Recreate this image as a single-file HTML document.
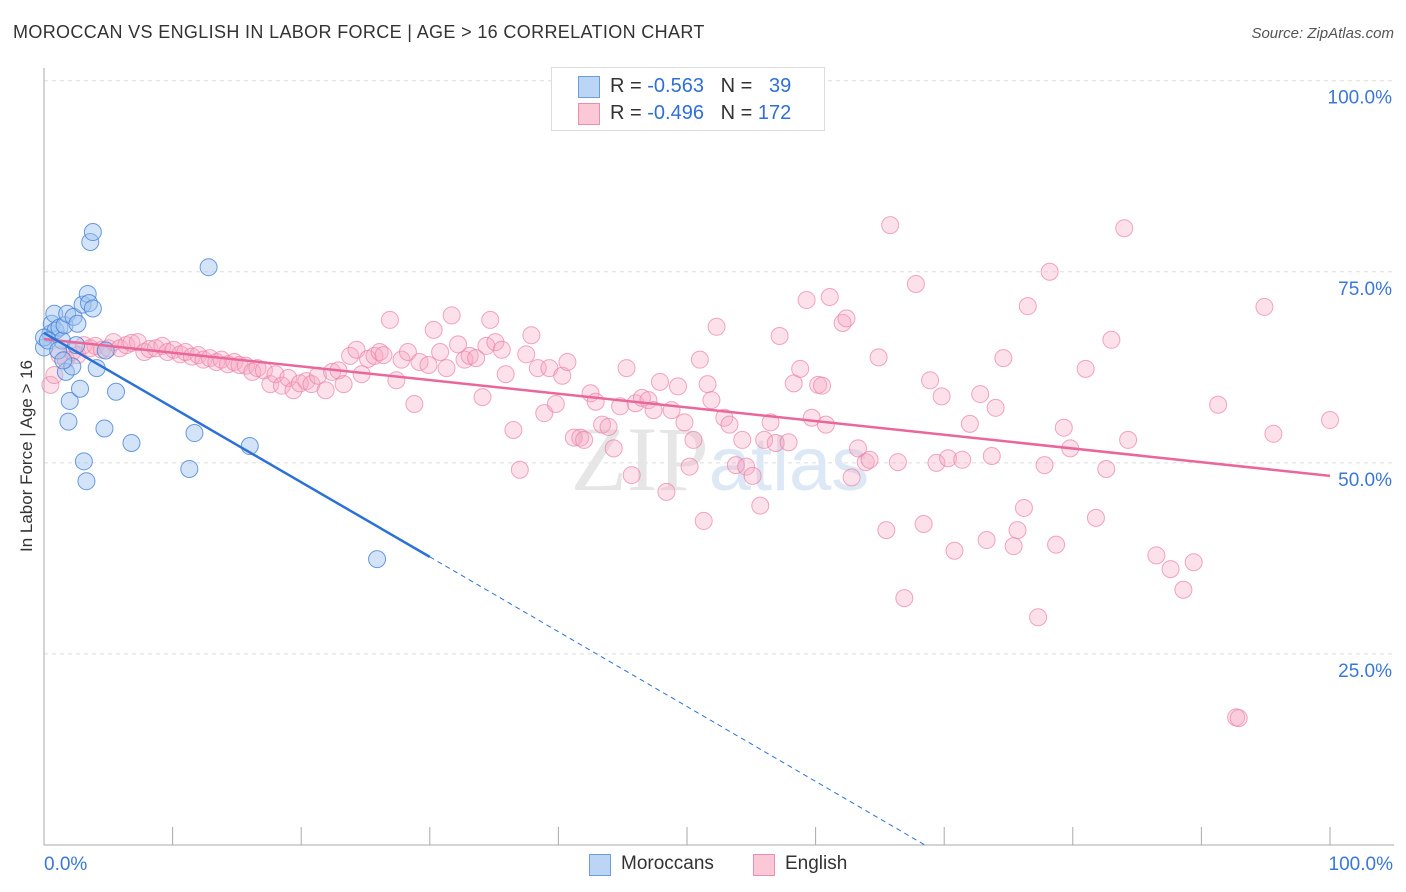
<!DOCTYPE html>
<html><head><meta charset="utf-8"><style>
body{margin:0;background:#fff;font-family:"Liberation Sans",sans-serif;}
#wrap{position:relative;width:1406px;height:892px;overflow:hidden;}
.t{position:absolute;white-space:nowrap;}
</style></head><body>
<div id="wrap">
<div class="t" style="left:13px;top:22px;font-size:18px;color:#333;letter-spacing:0.35px">MOROCCAN VS ENGLISH IN LABOR FORCE | AGE &gt; 16 CORRELATION CHART</div>
<div class="t" style="right:12px;top:25px;font-size:15px;color:#555;font-style:italic">Source: ZipAtlas.com</div>
<svg id="plot" width="1406" height="892" style="position:absolute;left:0;top:0"></svg>
<div class="t" style="left:27px;top:456px;font-size:17px;color:#333;transform:translate(-50%,-50%) rotate(-90deg)">In Labor Force | Age &gt; 16</div>
<div style="position:absolute;left:551px;top:67px;width:272px;height:62px;border:1px solid #ddd;background:#fff;font-size:20px">
 <div style="position:absolute;left:26px;top:8px;width:20px;height:20px;background:#bcd5f5;border:1px solid #6a9de0"></div>
 <div class="t" style="left:58px;top:7px;color:#333">R = <span style="color:#2f6fd6">-0.563</span>&nbsp;&nbsp;&nbsp;N = &nbsp;&nbsp;<span style="color:#2f6fd6">39</span></div>
 <div style="position:absolute;left:26px;top:35px;width:20px;height:20px;background:#fac8d6;border:1px solid #ec8fab"></div>
 <div class="t" style="left:58px;top:34px;color:#333">R = <span style="color:#2f6fd6">-0.496</span>&nbsp;&nbsp;&nbsp;N = <span style="color:#2f6fd6">172</span></div>
</div>
<div style="position:absolute;left:589px;top:853px;font-size:19px;color:#333">
 <div style="position:absolute;left:0;top:1px;width:20px;height:20px;background:#bcd5f5;border:1px solid #6a9de0"></div>
 <div class="t" style="left:32px;top:0">Moroccans</div>
 <div style="position:absolute;left:164px;top:1px;width:20px;height:20px;background:#fac8d6;border:1px solid #ec8fab"></div>
 <div class="t" style="left:196px;top:0">English</div>
</div>
</div>
<script>
const blueX=[0,0.5,0.6,0.8,0.9,1.2,1.4,1.6,1.7,1.8,1.9,2.0,2.2,2.3,2.5,2.6,2.8,3.0,3.1,3.3,3.4,3.5,3.6,3.8,3.8,4.1,4.7,4.8,5.6,6.8,11.3,11.7,12.8,16.0,25.9,0,0.3,1.1,1.5];
const blueY=[65.1,66.9,68.2,69.5,67.3,67.7,66.0,68.0,61.9,69.5,55.4,58.1,62.6,69.1,65.4,68.2,59.7,70.7,50.2,47.6,72.1,70.9,78.9,70.2,80.2,62.4,54.5,64.7,59.3,52.6,49.2,53.9,75.6,52.2,37.4,66.4,66.0,64.7,63.4];
const pinkX=[0.5,0.8,1.2,1.7,2.2,2.6,3.1,3.6,4.0,4.5,5.0,5.4,5.9,6.4,6.8,7.3,7.8,8.2,8.7,9.2,9.6,10.1,10.6,11.0,11.5,12.0,12.4,12.9,13.4,13.8,14.3,14.8,15.2,15.7,16.2,16.6,17.1,17.6,18.0,18.5,19.0,19.4,19.9,20.4,20.8,21.3,21.9,22.4,22.9,23.3,23.8,24.3,24.7,25.2,25.7,26.1,26.4,26.9,27.4,27.8,28.3,28.8,29.2,29.9,30.3,30.8,31.3,31.7,32.2,32.7,33.1,33.6,34.1,34.4,34.7,35.1,35.6,35.9,36.5,37.0,37.5,37.9,38.4,38.9,39.3,39.8,40.3,40.7,41.2,41.7,42.0,42.5,42.9,43.4,43.9,44.3,44.8,45.3,45.7,46.0,46.5,47.0,47.4,47.9,48.4,48.8,49.3,49.8,50.2,50.5,51.0,51.3,51.6,51.9,52.3,52.9,53.3,53.8,54.3,54.6,55.1,55.7,56.0,56.5,56.9,57.2,57.9,58.3,58.8,59.3,59.7,60.2,60.5,60.8,61.1,62.1,62.4,62.8,63.3,63.9,64.2,64.9,65.5,65.8,66.4,66.9,67.8,68.4,68.9,69.4,69.8,70.3,70.8,71.4,72.0,72.8,73.3,73.7,74.0,74.6,75.4,75.7,76.2,76.5,77.3,77.8,78.2,78.7,79.3,79.8,81.0,81.8,82.6,83.0,84.0,84.3,86.5,87.6,88.6,89.4,91.3,92.7,94.9,95.6,100,92.9];
const pinkY=[60.2,61.5,64.1,63.5,64.5,64.1,65.4,65.0,65.3,64.8,65.0,65.8,65.0,65.4,65.7,65.8,64.5,64.9,65.0,65.3,64.5,64.8,64.2,64.5,63.9,64.1,63.5,63.7,63.2,63.5,62.9,63.2,62.8,62.7,61.9,62.4,62.1,60.3,61.6,60.1,61.1,59.5,60.4,60.7,60.3,61.4,59.5,61.9,62.1,60.3,64.0,64.8,61.6,63.6,64.0,64.5,64.1,68.7,60.8,63.5,64.5,57.7,63.2,62.8,67.4,64.5,62.4,69.3,65.5,63.5,64.0,63.7,58.6,65.3,68.7,65.8,64.8,61.6,54.3,49.1,64.2,66.7,62.4,56.5,62.4,57.7,61.4,63.2,53.3,53.3,53.0,59.1,58.0,55.0,54.7,51.9,57.4,62.4,48.4,57.8,58.5,58.2,56.9,60.6,46.2,56.9,60.0,55.3,49.5,53.0,63.5,42.4,60.3,58.2,67.8,55.9,55.0,49.7,53.0,49.5,48.3,44.4,53.0,55.3,52.6,66.6,52.7,60.4,62.3,71.3,55.9,60.2,60.1,55.0,71.7,68.3,68.9,48.1,51.9,50.1,50.4,63.8,41.2,81.1,50.1,32.3,73.4,42.0,60.8,50.0,58.7,50.6,38.5,50.4,55.1,59.0,39.9,50.9,57.2,63.7,39.1,41.2,44.1,70.5,29.8,49.7,75.0,39.3,54.6,51.9,62.3,42.8,49.2,66.1,80.7,53.0,37.9,36.1,33.4,37.0,57.6,16.7,70.4,53.8,55.6,16.6];
const yTicks=[25,50,75,100];
const blueTrend=[[0,67.0],[30,37.7],[68.5,0]];
const pinkTrend=[[0,66.2],[100,48.3]];
const NS='http://www.w3.org/2000/svg';
const svg=document.getElementById('plot');
const X0=44,X1=1330,Y0=845,Y100=80.7;
function sx(v){return X0+(X1-X0)*v/100;}
function sy(v){return Y0-(Y0-Y100)*v/100;}
function mk(tag,attrs,parent){const e=document.createElementNS(NS,tag);for(const k in attrs)e.setAttribute(k,attrs[k]);(parent||svg).appendChild(e);return e;}
yTicks.forEach(t=>{
 const g=mk('line',{x1:X0,x2:1394,y1:sy(t),y2:sy(t),stroke:'#ddd','stroke-dasharray':'4,4'});
 
 
 const tx=mk('text',{x:1392,y:sy(t)+23,'text-anchor':'end','font-size':19,fill:'#3a78d8','font-family':'Liberation Sans, sans-serif'});
 tx.textContent=t.toFixed(1)+'%';
 
 
});
const ax=mk('line',{x1:X0,x2:X0,y1:68,y2:Y0,stroke:'#aaa'});


const bx=mk('line',{x1:X0,x2:1394,y1:Y0,y2:Y0,stroke:'#aaa'});


for(let i=1;i<=10;i++){const tk=mk('line',{x1:sx(i*10),x2:sx(i*10),y1:Y0,y2:Y0-18,stroke:'#aaa'});
 
 }
const xl=mk('text',{x:44,y:870,'font-size':19,fill:'#3a78d8','font-family':'Liberation Sans, sans-serif'});xl.textContent='0.0%';


const xr=mk('text',{x:1393,y:870,'text-anchor':'end','font-size':19,fill:'#3a78d8','font-family':'Liberation Sans, sans-serif'});xr.textContent='100.0%';


const wm=mk('text',{x:720,y:490,'text-anchor':'middle','font-size':92,fill:'#e6e6e6','font-family':'Liberation Serif, serif'});
wm.innerHTML='ZIP<tspan fill="#dde8f6" font-family="Liberation Sans, sans-serif" font-size="76">atlas</tspan>';


pinkX.forEach((v,i)=>{const c=mk('circle',{cx:sx(v),cy:sy(pinkY[i]),r:8.5,fill:'rgba(247,170,195,0.35)',stroke:'rgba(236,130,165,0.7)','stroke-width':1});
 
 });
blueX.forEach((v,i)=>{const c=mk('circle',{cx:sx(v),cy:sy(blueY[i]),r:8.5,fill:'rgba(160,195,240,0.45)',stroke:'rgba(70,130,215,0.8)','stroke-width':1});
 
 });
const pl=mk('line',{x1:sx(pinkTrend[0][0]),y1:sy(pinkTrend[0][1]),x2:sx(pinkTrend[1][0]),y2:sy(pinkTrend[1][1]),stroke:'#e9679a','stroke-width':2.5});


const bl=mk('line',{x1:sx(blueTrend[0][0]),y1:sy(blueTrend[0][1]),x2:sx(blueTrend[1][0]),y2:sy(blueTrend[1][1]),stroke:'#2c72d6','stroke-width':2.5});


const bd=mk('line',{x1:sx(blueTrend[1][0]),y1:sy(blueTrend[1][1]),x2:sx(blueTrend[2][0]),y2:sy(blueTrend[2][1]),stroke:'#2c72d6','stroke-width':1,'stroke-dasharray':'5,4'});


</script>
</body></html>
